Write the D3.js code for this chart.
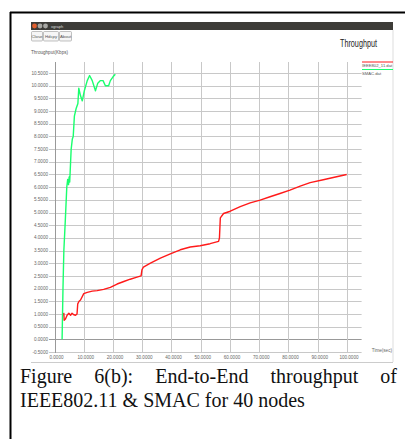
<!DOCTYPE html>
<html>
<head>
<meta charset="utf-8">
<script src="https://cdn.jsdelivr.net/npm/d3@7"></script>
<style>
  html, body { margin: 0; padding: 0; background: #fff; }
  svg { display: block; }
</style>
</head>
<body>
<div id="chart"></div>
<script>
// SMAC.dat (green) : time (sec), throughput (Kbps)
const smacTime = [2.6, 2.9, 3.2, 3.7, 4.2, 4.5, 4.8, 5.0, 5.2, 5.7, 6.1, 6.4, 6.8, 7.4, 8.0, 8.3, 8.9, 9.5, 10.2, 11.2, 12.0, 12.9, 14.0, 14.8, 15.7, 16.6, 17.4, 18.5, 19.1, 20.0, 20.8];
const smacValue = [0.0, 2.0, 3.5, 4.7, 6.0, 6.3, 6.1, 6.4, 6.2, 7.5, 7.9, 8.0, 8.8, 9.1, 9.3, 9.9, 9.6, 9.4, 9.8, 10.2, 10.4, 10.2, 9.8, 10.1, 10.2, 10.2, 10.0, 10.0, 10.2, 10.35, 10.45];

// IEEE802_11.dat (red)
const ieeeTime = [2.8, 3.2, 3.3, 3.75, 4.3, 4.9, 5.5, 6.0, 6.6, 7.2, 7.7, 7.95, 8.4, 8.9, 10.0, 11.2, 12.9, 14.6, 16.8, 19.1, 21.4, 23.7, 25.9, 28.2, 29.6, 29.9, 30.4, 32.8, 36.2, 39.6, 43.0, 46.4, 49.8, 53.2, 56.1, 56.4, 56.7, 57.8, 60.1, 63.5, 66.9, 70.3, 73.7, 77.1, 80.5, 84.0, 87.4, 91.9, 95.3, 99.9];
const ieeeValue = [0.95, 1.02, 0.75, 0.8, 0.95, 1.03, 0.95, 1.03, 0.97, 0.95, 1.0, 1.4, 1.5, 1.55, 1.8, 1.85, 1.9, 1.92, 1.97, 2.05, 2.18, 2.28, 2.37, 2.45, 2.5, 2.74, 2.85, 3.0, 3.2, 3.37, 3.53, 3.64, 3.69, 3.77, 3.86, 4.0, 4.79, 4.96, 5.05, 5.23, 5.38, 5.49, 5.62, 5.75, 5.88, 6.04, 6.18, 6.29, 6.38, 6.5];

const yTicks = [-0.5, 0, 0.5, 1, 1.5, 2, 2.5, 3, 3.5, 4, 4.5, 5, 5.5, 6, 6.5, 7, 7.5, 8, 8.5, 9, 9.5, 10, 10.5];
const xTicks = [0, 10, 20, 30, 40, 50, 60, 70, 80, 90, 100];

const seriesNames = ["IEEE802_11.dat", "SMAC.dat"];
const seriesColors = ["#ff1a1a", "#1aff6e"];

const width = 405;
const height = 439;

const svg = d3
  .select("#chart")
  .append("svg")
  .attr("width", width)
  .attr("height", height);

/* outer figure border */
svg.append("line").attr("x1", 10).attr("x2", 405).attr("y1", 12.5).attr("y2", 12.5)
  .attr("stroke", "#000").attr("stroke-width", 2);
svg.append("line").attr("x1", 10.5).attr("x2", 10.5).attr("y1", 12).attr("y2", 439)
  .attr("stroke", "#000").attr("stroke-width", 2);

/* xgraph window frame */
svg.append("rect").attr("x", 31).attr("y", 22).attr("width", 362).attr("height", 8)
  .attr("fill", "#3d3c38");
[["#e2602f", 34.5], ["#a8a8a4", 40], ["#a8a8a4", 45.5]].forEach(([c, cx]) => {
  svg.append("circle").attr("cx", cx).attr("cy", 26).attr("r", 2.4).attr("fill", c);
});
svg.append("text").attr("x", 51).attr("y", 27.6).text("xgraph")
  .style("font-family", "Liberation Sans").style("font-size", "4px").style("fill", "#ddd");

svg.append("line").attr("x1", 393).attr("x2", 393).attr("y1", 30).attr("y2", 362)
  .attr("stroke", "#ddd").attr("stroke-width", 1);
svg.append("line").attr("x1", 31).attr("x2", 393).attr("y1", 362.5).attr("y2", 362.5)
  .attr("stroke", "#ccc").attr("stroke-width", 1);

const buttons = [["Close", 31, 11], ["Hdcpy", 43, 15], ["About", 59, 12]];
buttons.forEach(([label, bx, bw]) => {
  svg.append("rect").attr("x", bx + 0.5).attr("y", 31.5).attr("width", bw).attr("height", 9.5)
    .attr("rx", 1).attr("fill", "#f6f6f6").attr("stroke", "#999").attr("stroke-width", 0.6);
  svg.append("text").attr("x", bx + 0.5 + bw / 2).attr("y", 37.8).attr("text-anchor", "middle")
    .text(label).style("font-family", "Liberation Sans").style("font-size", "4.3px").style("fill", "#555");
});

svg.append("text").attr("x", 340).attr("y", 47).text("Throughput")
  .attr("textLength", 37).attr("lengthAdjust", "spacingAndGlyphs")
  .style("font-family", "Liberation Sans").style("font-size", "10.5px").style("fill", "#222");
svg.append("text").attr("x", 31).attr("y", 54).text("Throughput(Kbps)")
  .style("font-family", "Liberation Sans").style("font-size", "4.6px").style("fill", "#555");

/* Scales */
const xScale = d3.scaleLinear().domain([0, 105]).range([54.5, 361.6]);
const yScale = d3.scaleLinear().domain([-0.5, 10.5]).range([352, 73]);
const gridTop = 62;

/* Grid */
const grid = svg.append("g").attr("class", "grid");
grid.selectAll(".hgrid")
  .data(yTicks)
  .enter()
  .append("line")
  .attr("x1", 49)
  .attr("x2", xScale(105))
  .attr("y1", (d) => Math.round(yScale(d)) + 0.5)
  .attr("y2", (d) => Math.round(yScale(d)) + 0.5)
  .attr("stroke", (d) => (d === 0 ? "#999" : "#c8c8c8"))
  .attr("stroke-width", 1);

grid.selectAll(".vgrid")
  .data(xTicks)
  .enter()
  .append("line")
  .attr("x1", (d) => Math.round(xScale(d)) + 0.5)
  .attr("x2", (d) => Math.round(xScale(d)) + 0.5)
  .attr("y1", gridTop)
  .attr("y2", yScale(-0.5) + 1)
  .attr("stroke", (d) => (d === 0 ? "#999" : "#c8c8c8"))
  .attr("stroke-width", 1);

/* Tick labels */
svg.selectAll(".ylabel")
  .data(yTicks)
  .enter()
  .append("text")
  .attr("x", 48)
  .attr("y", (d) => yScale(d) + 1.6)
  .attr("text-anchor", "end")
  .text((d) => d3.format(".4f")(d).replace("−", "-"))
  .style("font-family", "Liberation Sans")
  .style("font-size", "4.6px")
  .style("fill", "#666");

svg.selectAll(".xlabel")
  .data(xTicks)
  .enter()
  .append("text")
  .attr("x", (d) => xScale(d) + 2)
  .attr("y", 359)
  .attr("text-anchor", "middle")
  .text((d) => d3.format(".4f")(d))
  .style("font-family", "Liberation Sans")
  .style("font-size", "4.6px")
  .style("fill", "#666");

svg.append("text").attr("x", 392).attr("y", 351.5).attr("text-anchor", "end").text("Time(sec)")
  .style("font-family", "Liberation Sans").style("font-size", "4.6px").style("fill", "#666");

/* Lines */
const line = d3
  .line()
  .x((d) => xScale(d[0]))
  .y((d) => yScale(d[1]));

const ieeeData = d3.zip(ieeeTime, ieeeValue);
const smacData = d3.zip(smacTime, smacValue);

svg.append("path")
  .attr("d", line(ieeeData))
  .attr("fill", "none")
  .attr("stroke", seriesColors[0])
  .attr("stroke-width", 1.4)
  .attr("stroke-linejoin", "round");

svg.append("path")
  .attr("d", line(smacData))
  .attr("fill", "none")
  .attr("stroke", seriesColors[1])
  .attr("stroke-width", 1.4)
  .attr("stroke-linejoin", "round");

/* Legend */
seriesNames.forEach((name, i) => {
  const ly = 62 + i * 7.5;
  svg.append("line").attr("x1", 362).attr("x2", 393).attr("y1", ly).attr("y2", ly)
    .attr("stroke", seriesColors[i]).attr("stroke-width", 1);
  svg.append("text").attr("x", 362).attr("y", ly + 5).text(name)
    .style("font-family", "Liberation Sans").style("font-size", "4.2px").style("fill", "#555");
});

/* Caption */
const captionLines = ["Figure 6(b): End-to-End throughput of", "IEEE802.11 & SMAC for 40 nodes"];
const captionStyle = (sel) => sel
  .style("font-family", "Liberation Serif, Times New Roman, serif")
  .style("font-size", "20px")
  .style("fill", "#111");

// first line is justified between the two margins
const words = captionLines[0].split(" ");
const wordNodes = words.map((w) =>
  svg.append("text").attr("y", 383).text(w).call(captionStyle)
);
const widths = wordNodes.map((n) => n.node().getComputedTextLength());
const left = 20;
const right = 397;
const gap = (right - left - d3.sum(widths)) / (words.length - 1);
let cx = left;
wordNodes.forEach((n, i) => {
  n.attr("x", cx);
  cx += widths[i] + gap;
});

svg.append("text").attr("x", left).attr("y", 407).text(captionLines[1]).call(captionStyle);
</script>
</body>
</html>
